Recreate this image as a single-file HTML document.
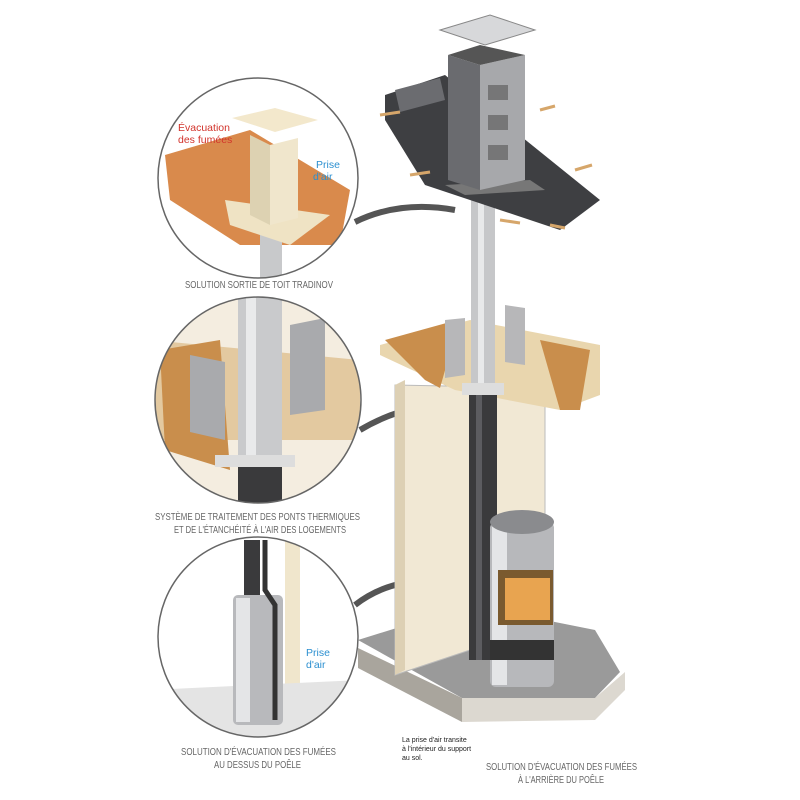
<!DOCTYPE html>
<html><head><meta charset="utf-8"><style>
html,body{margin:0;padding:0;background:#fff;}
svg{display:block}
.cap{font-family:"Liberation Sans",sans-serif;font-size:10px;fill:#666;}
</style></head><body>
<svg width="800" height="800" viewBox="0 0 800 800" xmlns="http://www.w3.org/2000/svg">
<path d="M355 222 Q400 200 455 210" stroke="#555" stroke-width="6" fill="none"/>
<path d="M360 430 Q410 400 470 405" stroke="#555" stroke-width="6" fill="none"/>
<path d="M355 605 Q400 570 470 585" stroke="#555" stroke-width="6" fill="none"/>
<polygon points="358,648 462,698 462,722 358,668" fill="#a9a59d"/>
<polygon points="462,698 595,698 625,672 625,690 595,720 462,722" fill="#dcd8d0"/>
<polygon points="358,640 470,605 595,630 620,672 595,698 462,698" fill="#9a9a9a"/>
<polygon points="395,385 545,388 545,625 395,675" fill="#f1e8d4" stroke="#bbb" stroke-width="1"/>
<polygon points="395,385 405,380 405,670 395,675" fill="#ddd0b4"/>
<polygon points="380,345 470,320 600,345 600,395 560,410 455,390 380,355" fill="#e9d6ae"/>
<polygon points="385,340 450,322 455,335 440,388 425,380" fill="#c98e4c"/>
<polygon points="540,340 590,350 580,410 560,410" fill="#c98e4c"/>
<polygon points="445,320 465,318 465,375 445,378" fill="#b7b7b9"/>
<polygon points="505,305 525,308 525,365 505,362" fill="#b7b7b9"/>
<rect x="471" y="190" width="24" height="200" fill="#c6c7c9"/>
<rect x="478" y="190" width="6" height="200" fill="#e8e9ea"/>
<rect x="469" y="390" width="28" height="270" fill="#3a3a3c"/>
<rect x="476" y="390" width="6" height="270" fill="#5c5c60"/>
<rect x="462" y="383" width="42" height="12" fill="#ddd"/>
<polygon points="385,95 445,75 600,200 560,230 425,185 385,120" fill="#3e3f42"/>
<polygon points="395,90 440,78 445,100 400,112" fill="#6b6c70"/>
<g stroke="#d6a66a" stroke-width="3"><line x1="380" y1="115" x2="400" y2="112"/><line x1="410" y1="175" x2="430" y2="172"/><line x1="540" y1="110" x2="555" y2="106"/><line x1="575" y1="170" x2="592" y2="165"/><line x1="500" y1="220" x2="520" y2="223"/><line x1="550" y1="225" x2="565" y2="228"/></g>
<polygon points="445,185 465,195 545,190 530,180" fill="#777"/>
<polygon points="448,55 480,65 480,190 448,180" fill="#6a6b6f"/>
<polygon points="480,65 525,55 525,180 480,190" fill="#a7a8ab"/>
<polygon points="448,55 480,45 525,55 480,65" fill="#555"/>
<rect x="488" y="85" width="20" height="15" fill="#555" opacity=".6"/>
<rect x="488" y="115" width="20" height="15" fill="#555" opacity=".6"/>
<rect x="488" y="145" width="20" height="15" fill="#555" opacity=".6"/>
<polygon points="440,30 490,15 535,30 485,45" fill="#d7d8da" stroke="#888"/>
<rect x="490" y="522" width="64" height="165" rx="6" fill="#b7b8bb"/>
<rect x="492" y="525" width="15" height="160" fill="#e4e5e7"/>
<ellipse cx="522" cy="522" rx="32" ry="12" fill="#8a8b8e"/>
<rect x="498" y="570" width="55" height="55" fill="#7a5a2f"/>
<rect x="505" y="578" width="45" height="42" fill="#e8a450"/>
<rect x="490" y="640" width="64" height="20" fill="#333"/>
<text class="cap" x="185" y="288" textLength="148" lengthAdjust="spacingAndGlyphs">SOLUTION SORTIE DE TOIT TRADINOV</text>
<text class="cap" x="155" y="520" textLength="205" lengthAdjust="spacingAndGlyphs">SYSTÈME DE TRAITEMENT DES PONTS THERMIQUES</text>
<text class="cap" x="174" y="533" textLength="172" lengthAdjust="spacingAndGlyphs">ET DE L'ÉTANCHÉITÉ À L'AIR DES LOGEMENTS</text>
<text class="cap" x="181" y="755" textLength="155" lengthAdjust="spacingAndGlyphs">SOLUTION D'ÉVACUATION DES FUMÉES</text>
<text class="cap" x="214" y="768" textLength="87" lengthAdjust="spacingAndGlyphs">AU DESSUS DU POÊLE</text>
<text class="cap" x="486" y="770" textLength="151" lengthAdjust="spacingAndGlyphs">SOLUTION D'ÉVACUATION DES FUMÉES</text>
<text class="cap" x="518" y="783" textLength="86" lengthAdjust="spacingAndGlyphs">À L'ARRIÈRE DU POÊLE</text>
<g font-family="Liberation Sans,sans-serif" font-size="7" fill="#222"><text x="402" y="742">La prise d'air transite</text><text x="402" y="751">à l'intérieur du support</text><text x="402" y="760">au sol.</text></g>
<defs>
<clipPath id="c1"><circle cx="258" cy="178" r="100"/></clipPath>
<clipPath id="c2"><circle cx="258" cy="400" r="103"/></clipPath>
<clipPath id="c3"><circle cx="258" cy="637" r="100"/></clipPath>
</defs>
<g clip-path="url(#c1)">
<rect x="150" y="70" width="220" height="220" fill="#fff"/>
<polygon points="165,155 250,130 350,190 340,245 240,245 170,200" fill="#d98a4c"/>
<rect x="260" y="230" width="22" height="60" fill="#c8c9cb"/>
<polygon points="225,200 330,215 290,245 230,225" fill="#efe3c4"/>
<polygon points="250,135 270,145 270,225 250,215" fill="#ddd2b2"/>
<polygon points="270,145 298,138 298,218 270,225" fill="#f0e6cc"/>
<polygon points="232,118 275,108 318,120 275,132" fill="#f3e8cc"/>
</g>
<circle cx="258" cy="178" r="100" fill="none" stroke="#666" stroke-width="1.5"/>
<g font-family="Liberation Sans,sans-serif" font-size="10.5">
<text x="178" y="131" fill="#d2332b">Évacuation</text><text x="178" y="143" fill="#d2332b">des fumées</text>
<text x="316" y="168" fill="#2b8fd0">Prise</text><text x="313" y="180" fill="#2b8fd0">d'air</text>
</g>
<g clip-path="url(#c2)">
<rect x="150" y="295" width="220" height="210" fill="#f4ede0"/>
<polygon points="150,340 360,360 360,440 150,440" fill="#e3c9a0"/>
<polygon points="160,350 220,340 230,470 165,450" fill="#c98e4c"/>
<rect x="238" y="295" width="44" height="160" fill="#c9cacc"/>
<rect x="246" y="295" width="10" height="160" fill="#e9eaeb"/>
<rect x="238" y="455" width="44" height="55" fill="#3a3a3c"/>
<polygon points="190,355 225,362 225,440 190,432" fill="#a9aaad"/>
<polygon points="290,325 325,318 325,410 290,415" fill="#a9aaad"/>
<rect x="215" y="455" width="80" height="12" fill="#ddd"/>
</g>
<circle cx="258" cy="400" r="103" fill="none" stroke="#666" stroke-width="1.5"/>
<g clip-path="url(#c3)">
<rect x="150" y="535" width="220" height="205" fill="#fff"/>
<polygon points="285,540 300,540 300,700 285,720" fill="#f0e6cc"/>
<polygon points="150,690 360,680 360,740 150,740" fill="#e4e4e4"/>
<rect x="244" y="540" width="16" height="60" fill="#3a3a3c"/>
<rect x="233" y="595" width="50" height="130" rx="5" fill="#b8b9bc"/>
<rect x="236" y="598" width="14" height="124" fill="#e4e5e7"/>
<path d="M265 540 L265 590 L275 605 L275 720" stroke="#333" stroke-width="5" fill="none"/>
</g>
<circle cx="258" cy="637" r="100" fill="none" stroke="#666" stroke-width="1.5"/>
<g font-family="Liberation Sans,sans-serif" font-size="10.5" fill="#2b8fd0"><text x="306" y="656">Prise</text><text x="306" y="668">d'air</text></g>
</svg>
</body></html>
